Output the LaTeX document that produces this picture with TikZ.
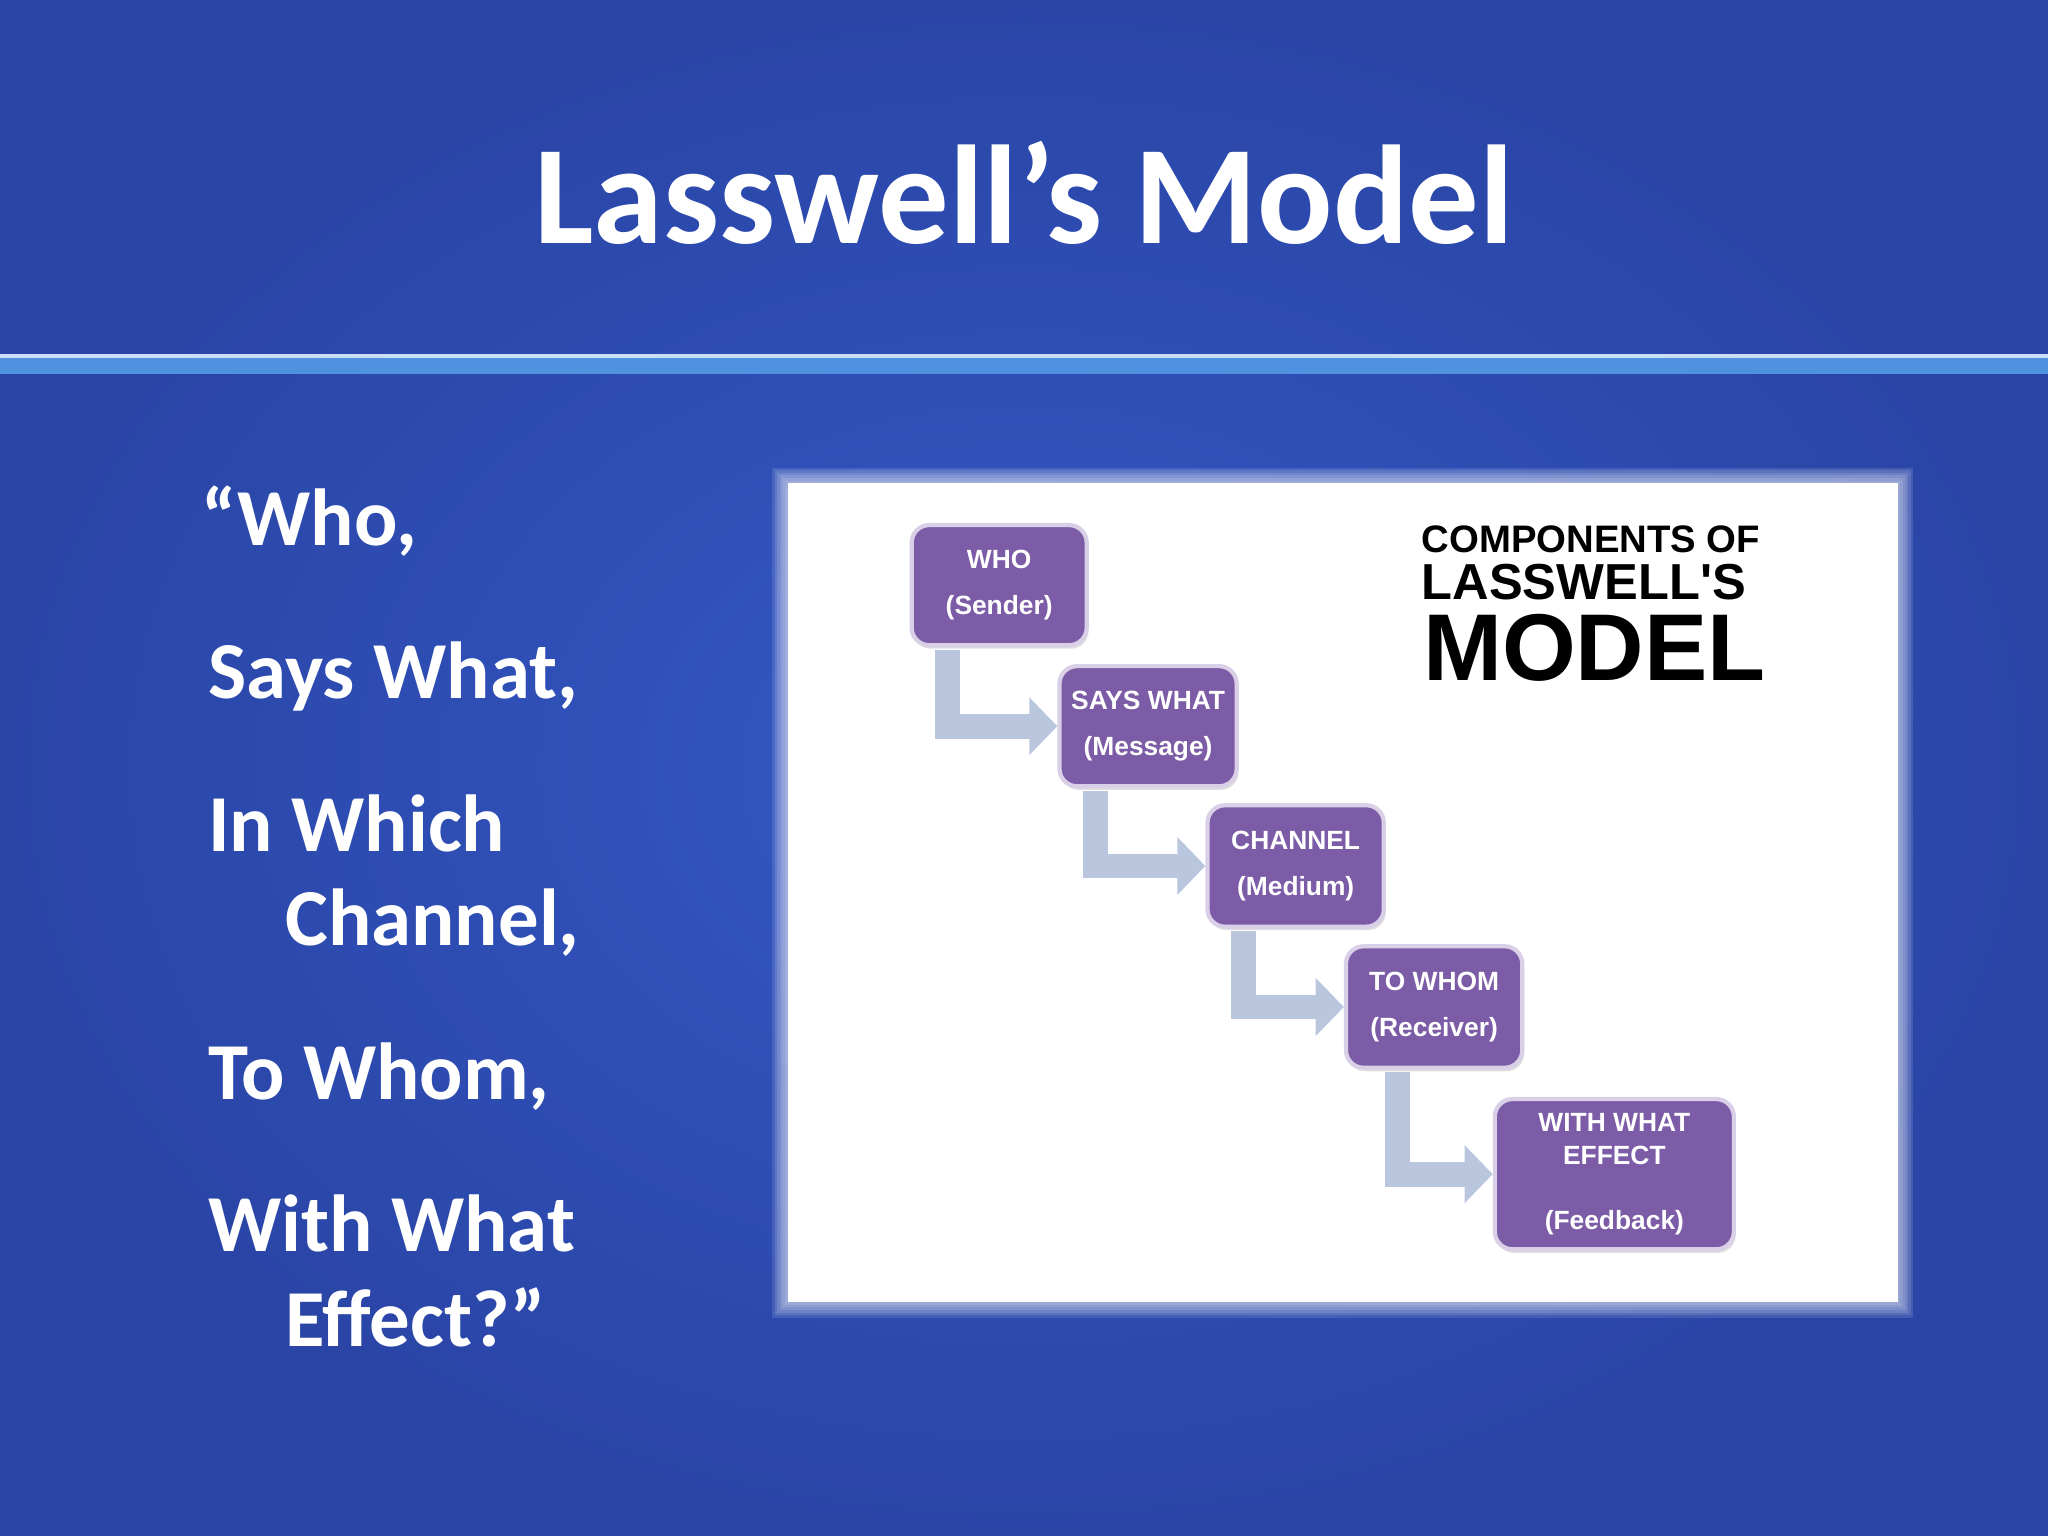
\documentclass[tikz,border=0pt]{standalone}
\usepackage{fontspec}
\setmainfont{Carlito}
\newfontfamily\arialb{Liberation Sans}
\usetikzlibrary{arrows.meta,shadows}
\definecolor{bgA}{HTML}{2A45A6}
\definecolor{bgB}{HTML}{3459C6}
\definecolor{bar}{HTML}{4F92E0}
\definecolor{boxc}{HTML}{7C5CA6}
\definecolor{boxb}{HTML}{D9D0E8}
\definecolor{arr}{HTML}{B9C6DE}
\tikzset{
  stage/.style={draw=boxb,line width=1.2pt,fill=boxc,rounded corners=5pt,text=white,font=\arialb\bfseries\fontsize{7.5}{13}\selectfont,align=center,drop shadow={opacity=0.25,shadow xshift=0.5pt,shadow yshift=-1pt}},
  flow/.style={arr,line width=7pt,-{Triangle[length=8pt,width=16pt]}},
  say/.style={text=white,font=\bfseries\fontsize{23}{26}\selectfont,anchor=base west,inner sep=0pt},
  head/.style={font=\arialb\bfseries,anchor=base west,inner sep=0pt}
}
\begin{document}
\begin{tikzpicture}[x=0.013061cm,y=-0.013061cm]
\useasboundingbox (0,0) rectangle (1568,1176);
\shade[inner color=bgB,outer color=bgA] (0,0) rectangle (1568,1176);
\fill[bar] (0,271) rectangle (1568,286);
\fill[white!70!bar] (0,271) rectangle (1568,274);
\node[text=white,font=\bfseries\fontsize{40}{46}\selectfont] (title) at (784,148) {Lasswell’s Model};
\node[say] (t1) at (154,418) {“Who,};
\node[say] (t2) at (159,535) {Says What,};
\node[say] (t3) at (159,652) {In Which};
\node[say] (t3b) at (218,724) {Channel,};
\node[say] (t4) at (159,842) {To Whom,};
\node[say] (t5) at (159,958) {With What};
\node[say] (t5b) at (218,1031) {Effect?”};
% panel
\foreach \i in {12,10,8,6,4,2} \fill[white,opacity=0.12] (603-\i,370-\i) rectangle (1453+\i,997+\i);
\fill[white] (603,370) rectangle (1453,997);
\node[stage,minimum width=134*0.013061cm,minimum height=92*0.013061cm] (a) at (765,448) {WHO\\(Sender)};
\node[stage,minimum width=134*0.013061cm,minimum height=92*0.013061cm] (b) at (879,556) {SAYS WHAT\\(Message)};
\node[stage,minimum width=135*0.013061cm,minimum height=93*0.013061cm] (c) at (992,663) {CHANNEL\\(Medium)};
\node[stage,minimum width=135*0.013061cm,minimum height=93*0.013061cm] (d) at (1098,771) {TO WHOM\\(Receiver)};
\node[stage,minimum width=183*0.013061cm,minimum height=115*0.013061cm,font=\arialb\bfseries\fontsize{7.5}{9.5}\selectfont] (e) at (1236,899) {WITH WHAT\\EFFECT\\[9pt](Feedback)};
\draw[flow] (a.south west)++(29,2) |- (b.west);
\draw[flow] (b.south west)++(29,2) |- (c.west);
\draw[flow] (c.south west)++(29,2) |- (d.west);
\draw[flow] (d.south west)++(41,2) |- (e.west);
\node[head,font=\arialb\bfseries\fontsize{10.9}{12}\selectfont] (h1) at (1088,423) {COMPONENTS OF};
\node[head,font=\arialb\bfseries\fontsize{14.4}{14}\selectfont] (h2) at (1088,459) {LASSWELL'S};
\node[head,font=\arialb\bfseries\fontsize{27}{26}\selectfont] (h3) at (1089,521) {MODEL};
\end{tikzpicture}
\end{document}
